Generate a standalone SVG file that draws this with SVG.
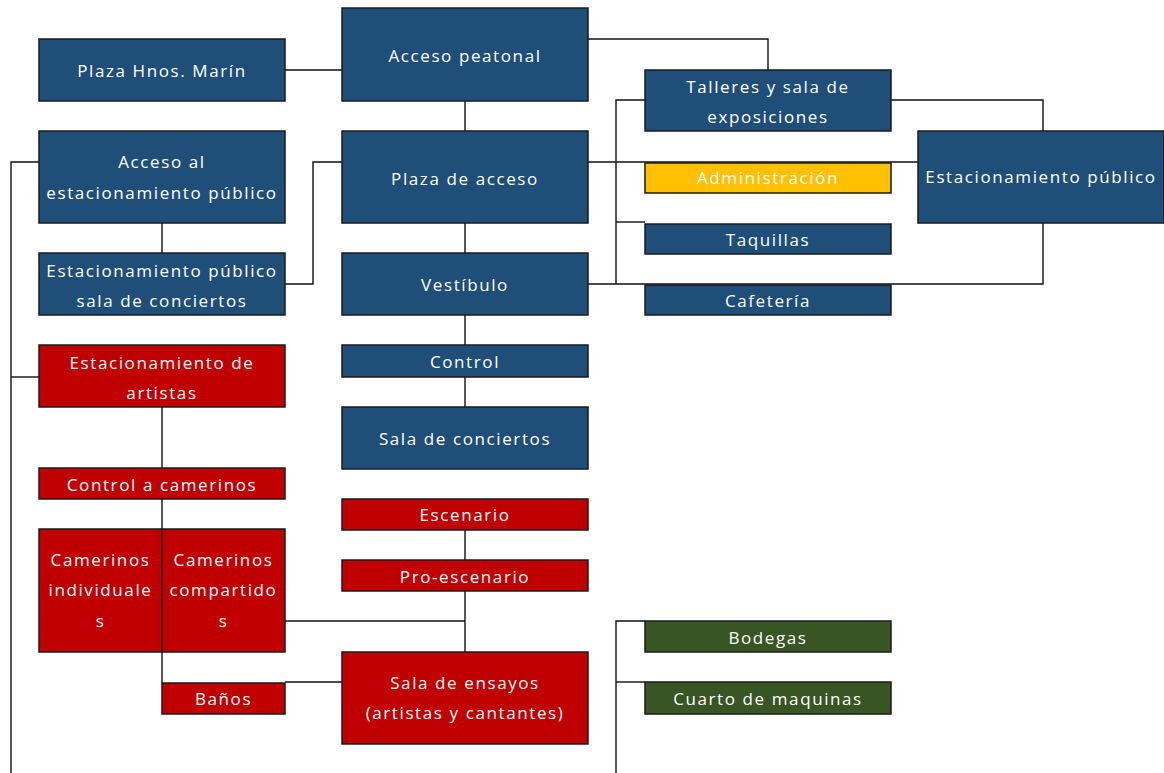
<svg xmlns="http://www.w3.org/2000/svg" width="1164" height="773" viewBox="0 0 1164 773">
<style>
  .b rect{stroke:#1b1b1b;stroke-width:1.5}
  .blue rect{fill:#1f4e79}
  .red rect{fill:#c00000}
  .yel rect{fill:#ffc000}
  .grn rect{fill:#375623}
  text{font-family:"Open Sans","DejaVu Sans",sans-serif;font-size:17px;fill:#ffffff;text-anchor:middle;dominant-baseline:central;letter-spacing:1.6px}
  #connectors{fill:none;stroke:#111111;stroke-width:1.4}
</style>
<rect width="1164" height="773" fill="#ffffff"/>
<g id="connectors">
  <polyline points="285,70 342,70"/>
  <polyline points="465,101 465,131"/>
  <polyline points="465,223 465,253"/>
  <polyline points="465,315 465,345"/>
  <polyline points="465,377 465,407"/>
  <polyline points="465,530 465,560"/>
  <polyline points="465,591 465,652"/>
  <polyline points="285,621 465,621"/>
  <polyline points="588,39 768,39 768,70"/>
  <polyline points="162,223 162,253"/>
  <polyline points="285,284 313,284 313,162 342,162"/>
  <polyline points="39,162 11,162 11,773"/>
  <polyline points="11,377 39,377"/>
  <polyline points="162,407 162,468"/>
  <polyline points="162,499 162,683"/>
  <polyline points="285,682 342,682"/>
  <polyline points="588,162 918,162"/>
  <polyline points="645,100 616,100 616,284"/>
  <polyline points="616,222 645,222"/>
  <polyline points="588,284 1043,284 1043,223"/>
  <polyline points="891,100 1043,100 1043,131"/>
  <polyline points="645,621 616,621 616,773"/>
  <polyline points="616,682 645,682"/>
</g>
<g id="plaza-hnos" class="b blue"><rect x="39" y="39" width="246" height="62"/><text x="162" y="70">Plaza Hnos. Marín</text></g>
<g id="acceso-peatonal" class="b blue"><rect x="342" y="8" width="246" height="93"/><text x="465" y="55">Acceso peatonal</text></g>
<g id="acceso-estac" class="b blue"><rect x="39" y="131" width="246" height="92"/><text x="162" y="161">Acceso al</text><text x="162" y="192">estacionamiento público</text></g>
<g id="plaza-acceso" class="b blue"><rect x="342" y="131" width="246" height="92"/><text x="465" y="178">Plaza de acceso</text></g>
<g id="estac-sala" class="b blue"><rect x="39" y="253" width="246" height="62"/><text x="162" y="270">Estacionamiento público</text><text x="162" y="300">sala de conciertos</text></g>
<g id="vestibulo" class="b blue"><rect x="342" y="253" width="246" height="62"/><text x="465" y="284">Vestíbulo</text></g>
<g id="control" class="b blue"><rect x="342" y="345" width="246" height="32"/><text x="465" y="361">Control</text></g>
<g id="sala-conciertos" class="b blue"><rect x="342" y="407" width="246" height="62"/><text x="465" y="438">Sala de conciertos</text></g>
<g id="talleres" class="b blue"><rect x="645" y="70" width="246" height="61"/><text x="768" y="86">Talleres y sala de</text><text x="768" y="116">exposiciones</text></g>
<g id="administracion" class="b yel"><rect x="645" y="163" width="246" height="30"/><text x="768" y="177.5">Administración</text></g>
<g id="taquillas" class="b blue"><rect x="645" y="224" width="246" height="30"/><text x="768" y="239">Taquillas</text></g>
<g id="cafeteria" class="b blue"><rect x="645" y="285" width="246" height="30"/><text x="768" y="300">Cafetería</text></g>
<g id="estac-publico" class="b blue"><rect x="918" y="131" width="246" height="92"/><text x="1041" y="176">Estacionamiento público</text></g>
<g id="estac-artistas" class="b red"><rect x="39" y="345" width="246" height="62"/><text x="162" y="362">Estacionamiento de</text><text x="162" y="392">artistas</text></g>
<g id="control-camerinos" class="b red"><rect x="39" y="468" width="246" height="31"/><text x="162" y="484">Control a camerinos</text></g>
<g id="camerinos-ind" class="b red"><rect x="39" y="529" width="123" height="123"/><text x="100.5" y="559">Camerinos</text><text x="100.5" y="589">individuale</text><text x="100.5" y="620">s</text></g>
<g id="camerinos-comp" class="b red"><rect x="162" y="529" width="123" height="123"/><text x="223.5" y="559">Camerinos</text><text x="223.5" y="589">compartido</text><text x="223.5" y="620">s</text></g>
<g id="banos" class="b red"><rect x="162" y="683" width="123" height="31"/><text x="223.5" y="698">Baños</text></g>
<g id="escenario" class="b red"><rect x="342" y="499" width="246" height="31"/><text x="465" y="514">Escenario</text></g>
<g id="pro-escenario" class="b red"><rect x="342" y="560" width="246" height="31"/><text x="465" y="576">Pro-escenario</text></g>
<g id="sala-ensayos" class="b red"><rect x="342" y="652" width="246" height="92"/><text x="465" y="682">Sala de ensayos</text><text x="465" y="712">(artistas y cantantes)</text></g>
<g id="bodegas" class="b grn"><rect x="645" y="621" width="246" height="31"/><text x="768" y="637">Bodegas</text></g>
<g id="cuarto-maquinas" class="b grn"><rect x="645" y="682" width="246" height="32"/><text x="768" y="698">Cuarto de maquinas</text></g>
</svg>
